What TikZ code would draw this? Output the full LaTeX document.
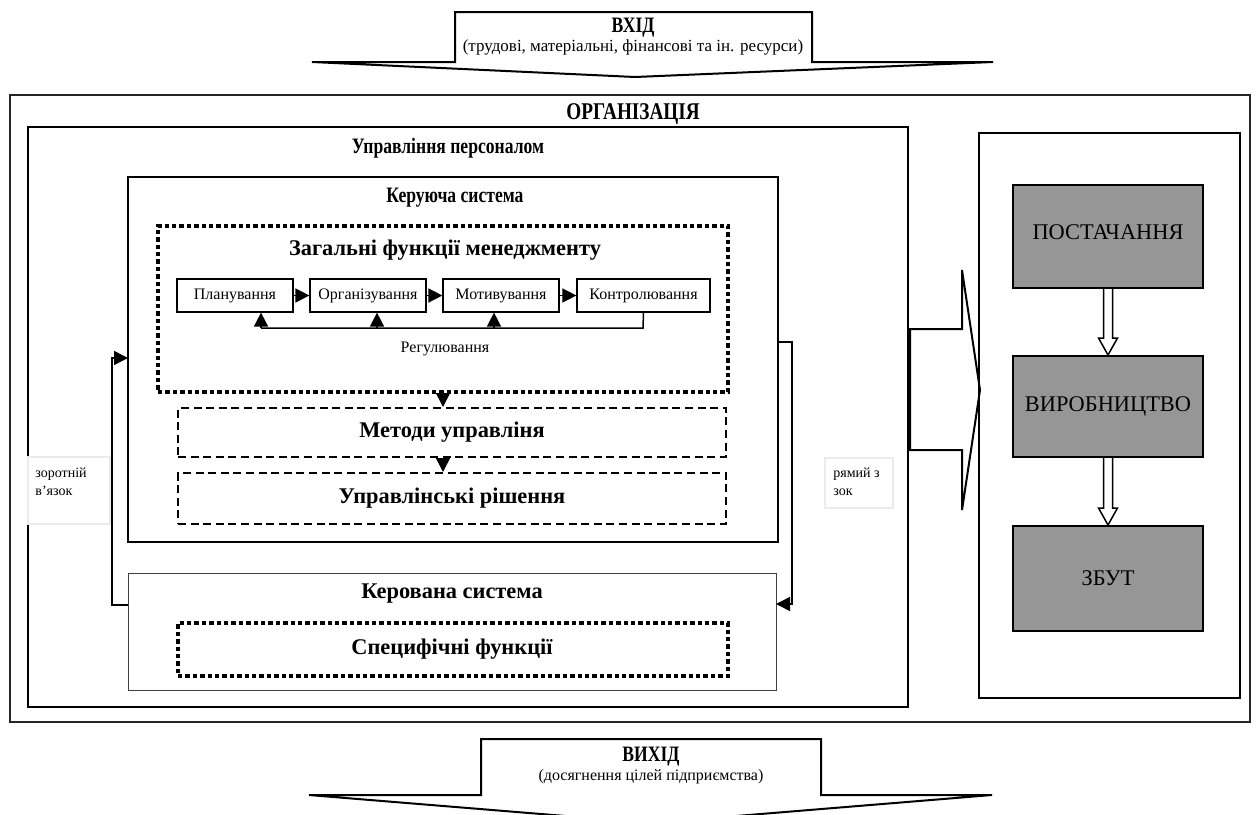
\documentclass[tikz,border=0pt]{standalone}
\usepackage{fontspec}
\setmainfont{Liberation Serif}
\newfontfamily\condfont[FakeStretch=0.8]{Liberation Serif}
\usetikzlibrary{arrows.meta,calc,fit}
\definecolor{boxgray}{HTML}{969696}

\begin{document}
\begin{tikzpicture}[
  % --- one unit = one pixel of the layout, y grows downwards
  x=0.5pt, y=-0.5pt,
  frame/.style={draw, line width=0.75pt, inner sep=0pt},
  outerframe/.style={draw=black!85, line width=1pt, inner sep=0pt},
  thinframe/.style={draw=black!75, line width=0.5pt, inner sep=0pt},
  dotbox/.style={draw, line width=2.2pt, dash pattern=on 2.2pt off 1.5pt, inner sep=0pt},
  dashbox/.style={draw, line width=1pt, dash pattern=on 4pt off 2.3pt, inner sep=0pt},
  graybox/.style={draw, line width=1pt, fill=boxgray, inner sep=0pt},
  fnbox/.style={draw, line width=0.6pt, inner sep=0pt},
  note/.style={draw=black!8, fill=white, line width=0.6pt, inner sep=0pt},
  title/.style={font=\condfont\bfseries\fontsize{11}{12}\selectfont},
  bigtitle/.style={font=\bfseries\fontsize{11.2}{13}\selectfont},
  sub/.style={font=\fontsize{8.5}{10}\selectfont},
  fntext/.style={font=\fontsize{8}{9.5}\selectfont},
  graytext/.style={font=\fontsize{11.2}{13}\selectfont},
  notetext/.style={font=\fontsize{7}{8.7}\selectfont, align=left, inner sep=0pt},
  arr/.style={line width=0.75pt, -{Triangle[length=7pt,width=7pt]}},
  blockarrow/.style={draw, line width=1pt, fill=white, line join=miter},
]
\useasboundingbox (0,0) rectangle (1258,814);

%========================
% Input arrow
%========================
\draw[blockarrow] (455,12) -- (812,12) -- (812,62) -- (993,62) -- (635,77)
  -- (312,62) -- (455,62) -- cycle;
\node[title] (inT) at (633,28) {ВХІД};
\node[sub] (inS) at (633,47) {(трудові, матеріальні, фінансові та ін. ресурси)};

%========================
% Organisation
%========================
\node[outerframe, fit={(10,95) (1250,722)}] (org) {};
\node[title, font=\condfont\bfseries\fontsize{12}{13}\selectfont] (orgT) at (633,114) {ОРГАНІЗАЦІЯ};

% personnel management
\node[frame, fit={(28,127) (908,707)}] (pers) {};
\node[title] (persT) at (448,148) {Управління персоналом};

% controlling system
\node[frame, fit={(128,177) (778,542)}] (ctrl) {};
\node[title] (ctrlT) at (455,198) {Керуюча система};

\node[dotbox, fit={(158,226) (728,392)}] (gen) {};
\node[bigtitle] (genT) at (445,250) {Загальні функції менеджменту};

% general functions
\node[fnbox, fit={(177,279) (293,312)}] (plan) {};
\node[fnbox, fit={(310,279) (426,312)}] (orgz) {};
\node[fnbox, fit={(443,279) (559,312)}] (motiv) {};
\node[fnbox, fit={(577,279) (710,312)}] (kontr) {};
\node[fntext] at (plan) {Планування};
\node[fntext] at (orgz) {Організування};
\node[fntext] at (motiv) {Мотивування};
\node[fntext] at (kontr) {Контролювання};
\draw[arr] (plan) -- (orgz);
\draw[arr] (orgz) -- (motiv);
\draw[arr] (motiv) -- (kontr);

% regulation loop
\coordinate (reg) at (643,328);
\draw[line width=0.75pt] (kontr.south) -- (reg) -- ++(-382,0);
\draw[arr] ([xshift=13pt]plan.south |- reg) -- ([xshift=13pt]plan.south);
\draw[arr] ([xshift=4.5pt]orgz.south |- reg) -- ([xshift=4.5pt]orgz.south);
\draw[arr] ([xshift=-3.5pt]motiv.south |- reg) -- ([xshift=-3.5pt]motiv.south);
\node[fntext] (regT) at (445,349) {Регулювання};

% methods and decisions
\node[dashbox, fit={(178,408) (726,457)}] (meth) {};
\node[bigtitle] (methT) at (452,432) {Методи управліня};
\node[dashbox, fit={(178,473) (726,524)}] (dec) {};
\node[bigtitle] (decT) at (452,498) {Управлінські рішення};
\draw[arr] (gen.south) -- (gen.south |- meth.north);
\draw[arr] (gen.south |- meth.south) -- (gen.south |- dec.north);

% controlled system
\node[thinframe, fit={(128,573) (776,690)}] (ctld) {};
\node[bigtitle] (ctldT) at (452,594) {Керована система};
\node[dotbox, fit={(178,623) (728,676)}] (spec) {};
\node[bigtitle] (specT) at (452,649) {Специфічні функції};

%========================
% Feedback and direct link
%========================
\coordinate (fbOut) at (128,605);
\coordinate (fbIn) at (128,358);
\draw[arr] (fbOut) -- ++(-16,0) |- (fbIn);
\node[note, fit={(28,457) (110,524)}] (fbN) {};
\node[notetext, anchor=north west] (fbT) at (35,468) {зоротній\\в’язок};

\coordinate (dlOut) at (778,342);
\coordinate (dlIn) at (776,604);
\draw[arr] (dlOut) -- (792,342) |- (dlIn);
\node[note, fit={(825,458) (893,508)}] (dlN) {};
\node[notetext, anchor=north west] (dlT) at (833,468) {рямий з\\зок};

%========================
% Main activities
%========================
\draw[blockarrow] (910,329) -- (962,329) -- (962,270) -- (980,390)
  -- (962,510) -- (962,450) -- (910,450) -- cycle;
\node[frame, fit={(979,133) (1240,698)}] (main) {};

\node[graybox, fit={(1013,185) (1203,288)}] (supp) {};
\node[graybox, fit={(1013,356) (1203,457)}] (prod) {};
\node[graybox, fit={(1013,526) (1203,631)}] (sale) {};
\node[graytext] at ($(supp)+(0,-4)$) {ПОСТАЧАННЯ};
\node[graytext] at (prod) {ВИРОБНИЦТВО};
\node[graytext] at (sale) {ЗБУТ};

\foreach \a/\b in {supp/prod, prod/sale}
  \draw[line width=0.75pt, fill=white]
    ($(\a.south)+(-4.5,0)$) -- ($(\b.north)+(-4.5,-17)$) -- ($(\b.north)+(-9.5,-17)$)
    -- (\b.north) -- ($(\b.north)+(9.5,-17)$) -- ($(\b.north)+(4.5,-17)$)
    -- ($(\a.south)+(4.5,0)$);

%========================
% Output arrow
%========================
\draw[blockarrow] (481,739) -- (821,739) -- (821,795) -- (992,795) -- (651,823)
  -- (309,795) -- (481,795) -- cycle;
\node[title] (outT) at (651,757) {ВИХІД};
\node[sub, font=\fontsize{8}{10}\selectfont] (outS) at (651,777) {(досягнення цілей підприємства)};

\end{tikzpicture}
\end{document}
